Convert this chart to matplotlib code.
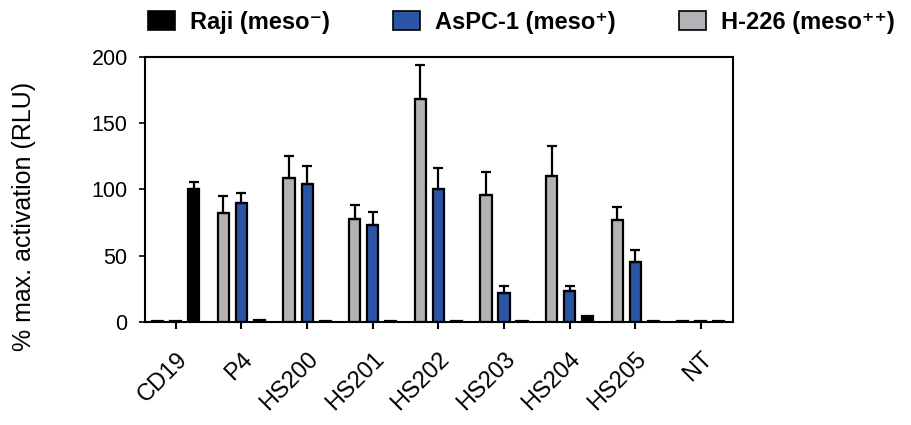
import matplotlib
matplotlib.use("Agg")
import matplotlib.pyplot as plt
import numpy as np
from matplotlib.patches import Patch

plt.rcParams['font.family'] = ['Liberation Sans', 'DejaVu Sans']

categories = ["CD19", "P4", "HS200", "HS201", "HS202", "HS203", "HS204", "HS205", "NT"]

h226 = [0.5, 82, 108.5, 78, 168.5, 95.5, 110.5, 77, 0.6]
h226_err = [0, 13, 17, 10, 25.5, 18, 22.5, 9.5, 0]
aspc1 = [0.8, 90, 104, 73.5, 100, 22, 23.5, 45.5, 0.8]
aspc1_err = [0, 7.5, 13.5, 9.5, 16.5, 5.5, 4, 8.5, 0]
raji = [100, 1.2, 0.6, 0.6, 0.6, 1.0, 4.8, 0.5, 0.5]
raji_err = [5.5, 0, 0, 0, 0, 0, 0, 0, 0]

labels = ["H-226 (meso\u207a\u207a)", "AsPC-1 (meso\u207a)", "Raji (meso\u207b)"]
colors = ["#B3B3B7", "#2A54A4", "#000000"]

fig = plt.figure(figsize=(9.11, 4.25), dpi=100)
ax = fig.add_axes([0.1592, 0.2424, 0.6454, 0.6235])

x = np.arange(len(categories))
off = 0.275
w = 0.17
series = [(h226, h226_err), (aspc1, aspc1_err), (raji, raji_err)]
for i, ((vals, errs), c) in enumerate(zip(series, colors)):
    pos = x + (i - 1) * off
    ax.bar(pos, vals, width=w, color=c, edgecolor="black", linewidth=1.6, zorder=2)
    errs = np.array(errs)
    mask = errs > 0
    ax.errorbar(pos[mask], np.array(vals)[mask], yerr=[np.zeros(mask.sum()), errs[mask]],
                fmt="none", ecolor="black", elinewidth=1.6, capsize=3.6, capthick=1.6, zorder=3)

ax.set_xlim(-0.47, 8.49)
ax.set_ylim(0, 200)
ax.set_yticks([0, 50, 100, 150, 200])
ax.set_xticks(x)
ax.set_xticklabels(categories, rotation=45, ha="right", rotation_mode="anchor", fontsize=17)
ax.tick_params(axis="y", labelsize=15.5, length=4.5, width=1.2, direction="out", pad=8)
ax.tick_params(axis="x", length=5, width=1.5, direction="out", pad=14)
for s in ax.spines.values():
    s.set_linewidth(1.5)
ax.set_ylabel("% max. activation (RLU)", fontsize=18)
ax.yaxis.set_label_coords(-0.185, 0.40)

handles = [Patch(facecolor=colors[2], edgecolor="black", linewidth=1.2),
           Patch(facecolor=colors[1], edgecolor="black", linewidth=1.2),
           Patch(facecolor=colors[0], edgecolor="black", linewidth=1.2)]
leg_labels = [labels[2], labels[1], labels[0]]
leg = fig.legend(handles, leg_labels, loc="upper left", bbox_to_anchor=(0.139, 1.025), ncol=3,
                 frameon=False, prop={"weight": "bold", "size": 17},
                 handlelength=1.15, handleheight=0.85, handletextpad=0.65, columnspacing=2.65)

fig.savefig("out.png", dpi=100)
